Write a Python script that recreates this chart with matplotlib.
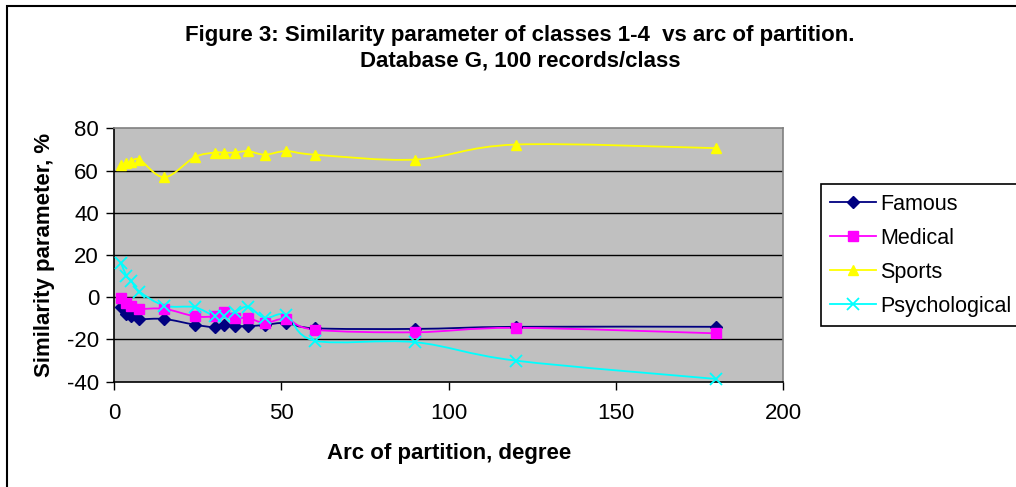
import matplotlib
matplotlib.use("Agg")
import matplotlib.pyplot as plt
import numpy as np
from matplotlib.path import Path
from matplotlib.patches import PathPatch, Rectangle
from matplotlib.lines import Line2D

plt.rcParams['font.family'] = ['Liberation Sans', 'DejaVu Sans']
plt.rcParams['axes.unicode_minus'] = False

arc = [2, 3.6, 5, 7.5, 15, 24, 30, 32.7, 36, 40, 45, 51.4, 60, 90, 120, 180]
famous = [-4.7, -7.9, -8.7, -10.3, -10.3, -13.0, -14.2, -13.0, -13.5, -13.7, -13.1, -12.2, -14.7, -15.0, -14.0, -14.0]
medical = [-0.3, -2.8, -4.3, -5.5, -5.5, -9.0, -9.0, -7.1, -9.8, -9.8, -12.2, -10.3, -15.4, -16.6, -14.5, -17.1]
sports = [62.4, 63.5, 64.0, 65.2, 56.8, 66.3, 68.5, 68.5, 68.5, 69.2, 67.5, 69.2, 67.5, 65.2, 72.3, 70.6]
psych = [16.3, 10.2, 7.9, 2.7, -4.0, -4.7, -9.0, -8.7, -7.1, -4.5, -9.8, -8.4, -20.6, -21.3, -30.0, -38.7]

series = [
    ("Famous", famous, "#000080", "D", 6.0, dict()),
    ("Medical", medical, "#FF00FF", "s", 6.5, dict()),
    ("Sports", sports, "#FFFF00", "^", 7.5, dict()),
    ("Psychological", psych, "#00FFFF", "x", 8.0, dict(markeredgewidth=1.3)),
]

W, H = 1016, 487
fig = plt.figure(figsize=(W / 100, H / 100), dpi=100)
fig.patch.set_facecolor("white")

# outer chart border (cut at right/bottom as in reference)
fig.patches.append(Rectangle((7 / W, -0.1), 1.2, 1 - 6 / H + 0.1, transform=fig.transFigure,
                             fill=False, edgecolor="black", linewidth=1.5))

ax = fig.add_axes([114.3 / W, 1 - 381.7 / H, (783 - 114.3) / W, (381.7 - 128.3) / H])
ax.set_facecolor("#C0C0C0")
ax.set_xlim(0, 200)
ax.set_ylim(-40, 80)
ax.set_xticks([0, 50, 100, 150, 200])
ax.set_yticks([-40, -20, 0, 20, 40, 60, 80])
ax.tick_params(axis="both", direction="out", length=6, width=1, labelsize=16, colors="black", pad=5)
ax.tick_params(axis="x", pad=9)
for yv in [-20, 0, 20, 40, 60]:
    ax.axhline(yv, color="black", linewidth=1.0, zorder=1)
ax.spines["left"].set_color("black")
ax.spines["bottom"].set_color("black")
ax.spines["top"].set_color("#808080")
ax.spines["right"].set_color("#808080")
for s in ax.spines.values():
    s.set_linewidth(1.2)


def smooth_path(xs, ys):
    pts = np.column_stack([xs, ys])
    n = len(pts)
    verts = [pts[0]]
    codes = [Path.MOVETO]
    for i in range(n - 1):
        p0 = pts[i - 1] if i > 0 else pts[i]
        p1 = pts[i]
        p2 = pts[i + 1]
        p3 = pts[i + 2] if i + 2 < n else pts[i + 1]
        c1 = p1 + (p2 - p0) / 6.0
        c2 = p2 - (p3 - p1) / 6.0
        verts += [c1, c2, p2]
        codes += [Path.CURVE4] * 3
    return Path(verts, codes)


handles = []
for name, vals, col, mk, ms, extra in series:
    ax.add_patch(PathPatch(smooth_path(arc, vals), facecolor="none", edgecolor=col, linewidth=1.3, zorder=3))
    ax.plot(arc, vals, linestyle="none", marker=mk, markersize=ms, color=col, zorder=4, clip_on=False, **extra)
    handles.append(Line2D([0], [0], color=col, linewidth=1.3, marker=mk, markersize=ms, **extra))

leg = fig.legend(handles, [s[0] for s in series], loc="upper left",
                 bbox_to_anchor=(820.7 / W, 1 - 184.3 / H), fontsize=15.5,
                 frameon=True, fancybox=False, edgecolor="black", framealpha=1,
                 handlelength=2.1, handletextpad=0.22, labelspacing=0.6,
                 borderpad=0.45, borderaxespad=0)
leg.get_frame().set_linewidth(1.2)

fig.text(520 / W, 1 - 35 / H, "Figure 3: Similarity parameter of classes 1-4  vs arc of partition.",
         ha="center", va="center", fontsize=16, fontweight="bold")
fig.text(520 / W, 1 - 61 / H, "Database G, 100 records/class",
         ha="center", va="center", fontsize=16, fontweight="bold")
fig.text(449 / W, 1 - 453 / H, "Arc of partition, degree", ha="center", va="center",
         fontsize=16, fontweight="bold")
fig.text(45 / W, 1 - 255 / H, "Similarity parameter, %", ha="center", va="center",
         rotation=90, fontsize=16, fontweight="bold")

fig.savefig("out.png", dpi=100)
